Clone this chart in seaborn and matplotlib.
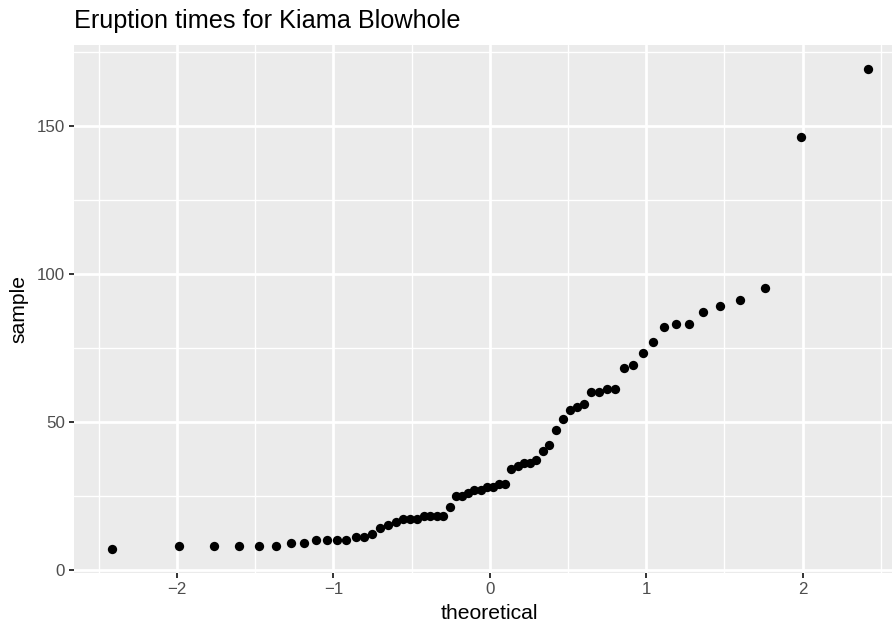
import matplotlib
matplotlib.use("Agg")
import matplotlib.pyplot as plt
import seaborn as sns
import pandas as pd
from statistics import NormalDist
from matplotlib.ticker import FixedLocator

# Kiama Blowhole eruption waiting times (seconds)
eruption_times = [83, 51, 87, 60, 28, 95, 8, 27, 15, 10, 18, 16, 29, 54, 91, 8,
                  17, 55, 10, 35, 47, 77, 36, 17, 21, 36, 18, 40, 10, 7, 34, 27,
                  28, 56, 8, 25, 68, 146, 89, 18, 73, 69, 9, 37, 10, 82, 29, 8,
                  60, 61, 61, 18, 169, 25, 8, 26, 11, 83, 11, 42, 17, 14, 9, 12]

x_ticks = [-2, -1, 0, 1, 2]
x_minor = [-2.5, -1.5, -0.5, 0.5, 1.5, 2.5]
y_ticks = [0, 50, 100, 150]
y_minor = [25, 75, 125, 175]
title = "Eruption times for Kiama Blowhole"

# Q-Q statistic (as ggplot's stat_qq): sorted sample vs normal quantiles of ppoints(n)
sample = sorted(eruption_times)
n = len(sample)
a = 0.5 if n > 10 else 3 / 8
theoretical = [NormalDist().inv_cdf((i + 1 - a) / (n + 1 - 2 * a)) for i in range(n)]
df = pd.DataFrame({"theoretical": theoretical, "sample": sample})

sns.set_theme(style="darkgrid")
plt.rcParams["font.family"] = ["Liberation Sans", "DejaVu Sans"]

W, H = 892, 623
fig = plt.figure(figsize=(W / 100, H / 100), dpi=100)
fig.patch.set_facecolor("white")
ax = fig.add_axes([74 / W, 50.2 / H, 831.6 / W, 527.5 / H])
ax.set_facecolor("#EBEBEB")

sns.scatterplot(data=df, x="theoretical", y="sample", ax=ax, color="black",
                s=45, linewidth=0, zorder=3)

xr = max(theoretical) - min(theoretical)
yr = max(sample) - min(sample)
ax.set_xlim(min(theoretical) - 0.05 * xr, max(theoretical) + 0.05 * xr)
ax.set_ylim(min(sample) - 0.05 * yr, max(sample) + 0.05 * yr)

ax.xaxis.set_major_locator(FixedLocator(x_ticks))
ax.xaxis.set_minor_locator(FixedLocator(x_minor))
ax.yaxis.set_major_locator(FixedLocator(y_ticks))
ax.yaxis.set_minor_locator(FixedLocator(y_minor))
ax.set_xticklabels(["\u22122", "\u22121", "0", "1", "2"])
ax.set_yticklabels([str(v) for v in y_ticks])

ax.grid(True, which="major", color="white", linewidth=1.95)
ax.grid(True, which="minor", color="white", linewidth=0.98)
ax.set_axisbelow(True)
for sp in ax.spines.values():
    sp.set_visible(False)

ax.tick_params(axis="both", which="major", length=3.8, width=1.4, color="#333333",
               labelsize=12.2, labelcolor="#4D4D4D", pad=2.5)
ax.tick_params(axis="both", which="minor", length=0)
ax.tick_params(axis="x", bottom=True)
ax.tick_params(axis="y", left=True)

ax.set_xlabel("theoretical", fontsize=15.2, color="black")
ax.set_ylabel("sample", fontsize=15.2, color="black")
ax.xaxis.set_label_coords(0.5, (3.7 - 50.2) / 527.5)
ax.xaxis.label.set_va("baseline")
ax.yaxis.set_label_coords((19 - 74) / 831.6, 0.5)
ax.yaxis.label.set_va("center")

fig.text(74 / W, 1 - 28.3 / H, title, fontsize=18.2, color="black",
         ha="left", va="baseline")

fig.savefig("out.png", dpi=100, facecolor="white")
